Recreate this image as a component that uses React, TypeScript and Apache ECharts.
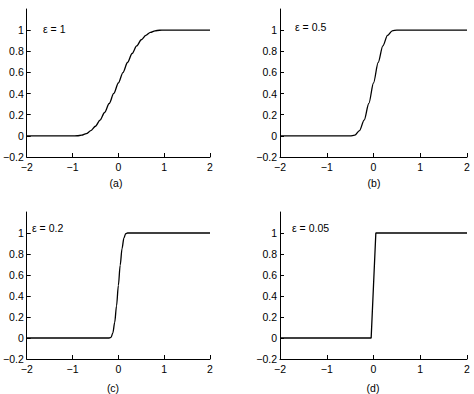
import React, { useEffect, useRef } from "react";
import * as echarts from "echarts";

const xTicks = [-2, -1, 0, 1, 2];
const yTicks = [-0.2, 0, 0.2, 0.4, 0.6, 0.8, 1];
const epsLabels = ["ε = 1", "ε = 0.5", "ε = 0.2", "ε = 0.05"];
const panelLabels = ["(a)", "(b)", "(c)", "(d)"];

// (a) eps = 1
const xA = [-2, -1, -0.9, -0.8, -0.7, -0.6, -0.5, -0.4, -0.3, -0.2, -0.1, 0, 0.1, 0.2, 0.3, 0.4, 0.5, 0.6, 0.7, 0.8, 0.9, 1, 2];
const yA = [0, 0, 0.001, 0.006, 0.021, 0.049, 0.091, 0.149, 0.221, 0.306, 0.401, 0.5, 0.599, 0.694, 0.779, 0.851, 0.909, 0.951, 0.979, 0.994, 0.999, 1, 1];
// (b) eps = 0.5
const xB = [-2, -0.5, -0.4, -0.3, -0.2, -0.1, 0, 0.1, 0.2, 0.3, 0.4, 0.5, 2];
const yB = [0, 0, 0.006, 0.049, 0.149, 0.306, 0.5, 0.694, 0.851, 0.951, 0.994, 1, 1];
// (c) eps = 0.2
const xC = [-2, -0.2, -0.16, -0.12, -0.08, -0.04, 0, 0.04, 0.08, 0.12, 0.16, 0.2, 2];
const yC = [0, 0, 0.006, 0.049, 0.149, 0.306, 0.5, 0.694, 0.851, 0.951, 0.994, 1, 1];
// (d) eps = 0.05
const xD = [-2, -0.05, 0, 0.05, 2];
const yD = [0, 0, 0.5, 1, 1];

const xs = [xA, xB, xC, xD];
const ys = [yA, yB, yC, yD];

const grids = [
  { left: 23, top: 9, width: 187, height: 148 },
  { left: 280, top: 9, width: 187, height: 148 },
  { left: 23, top: 212, width: 187, height: 147 },
  { left: 280, top: 212, width: 187, height: 147 },
];
const epsPos = [
  [43, 30],
  [295, 28],
  [32, 229],
  [292, 229],
];
const panelPos = [
  [116, 183],
  [374, 183],
  [113, 388],
  [373, 388],
];

const fmt = (v: number) => {
  const r = Math.round(v * 10) / 10;
  return r < 0 ? "\u2212" + String(Math.abs(r)) : String(r);
};

export default function App() {
  const ref = useRef<HTMLDivElement>(null);
  useEffect(() => {
    if (!ref.current) return;
    const chart = echarts.init(ref.current, null, { renderer: "svg" });
    const font = "Liberation Sans, Arial, sans-serif";
    const axisCommon = {
      axisLine: { show: true, onZero: false, lineStyle: { color: "#000", width: 1 } },
      splitLine: { show: false },
      axisLabel: { color: "#000", fontSize: 10.5, fontFamily: font, formatter: fmt },
    };
    const option: any = {
      animation: false,
      backgroundColor: "#fff",
      grid: grids.map((g) => ({ ...g, containLabel: false })),
      xAxis: grids.map((_, i) => ({
        ...axisCommon,
        type: "value",
        gridIndex: i,
        min: -2,
        max: 2,
        interval: 1,
        axisTick: { show: true, inside: true, length: 4, lineStyle: { color: "#000" } },
        axisLabel: { ...axisCommon.axisLabel, margin: 4, customValues: xTicks },
      })),
      yAxis: grids.map((_, i) => ({
        ...axisCommon,
        type: "value",
        gridIndex: i,
        min: -0.2,
        max: 1.2,
        interval: 0.2,
        axisTick: { show: true, inside: true, length: 4, customValues: yTicks, lineStyle: { color: "#000" } },
        axisLabel: { ...axisCommon.axisLabel, margin: 3, customValues: yTicks },
      })),
      series: xs.map((xv, i) => ({
        type: "line",
        xAxisIndex: i,
        yAxisIndex: i,
        data: xv.map((x, j) => [x, ys[i][j]]),
        showSymbol: false,
        smooth: i === 3 ? false : 0.3,
        smoothMonotone: "x",
        lineStyle: { color: "#000", width: 1.3 },
        silent: true,
      })),
      graphic: [
        ...epsLabels.map((t, i) => ({
          type: "text",
          left: epsPos[i][0],
          top: epsPos[i][1] - 7,
          style: { text: t, fill: "#000", font: `10.5px ${font}` },
        })),
        ...panelLabels.map((t, i) => ({
          type: "text",
          x: panelPos[i][0],
          y: panelPos[i][1],
          style: { text: t, fill: "#000", font: `10.5px ${font}`, textAlign: "center", textVerticalAlign: "middle" },
        })),
      ],
    };
    chart.setOption(option);
    return () => chart.dispose();
  }, []);
  return (
    <div
      ref={ref}
      style={{ position: "fixed", left: 0, top: 0, width: 474, height: 394 }}
    />
  );
}
